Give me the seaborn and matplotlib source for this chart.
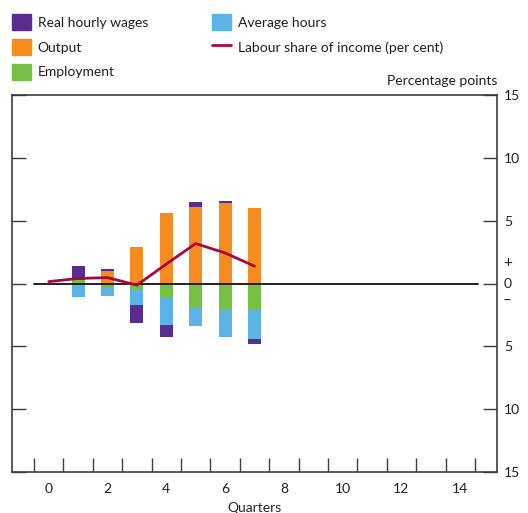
import numpy as np
import matplotlib
matplotlib.use('Agg')
import matplotlib.pyplot as plt
import seaborn as sns
import pandas as pd
from matplotlib.patches import Patch
from matplotlib.lines import Line2D

# ---------------------------------------------------------------------------
# Data
# ---------------------------------------------------------------------------
bar_quarters = [1, 2, 3, 4, 5, 6, 7]
real_wages = [1.12, 0.20, -1.40, -0.95, 0.42, 0.16, -0.40]
output = [0.0, 0.98, 2.90, 5.60, 6.05, 6.39, 6.00]
employment = [0.26, -0.30, -0.55, -1.10, -1.95, -2.00, -2.00]
avg_hours = [-1.09, -0.70, -1.20, -2.20, -1.45, -2.26, -2.43]

line_quarters = [0, 1, 2, 3, 4, 5, 6, 7]
labour_share = [0.15, 0.40, 0.47, -0.13, 1.55, 3.18, 2.43, 1.38]

y_ticks = [-15, -10, -5, 0, 5, 10, 15]
y_tick_labels = ['15', '10', '5', '0', '5', '10', '15']
x_ticks = [0, 2, 4, 6, 8, 10, 12, 14]

COLORS = {
    'Real hourly wages': '#5b2c8f',
    'Output': '#f68b1f',
    'Employment': '#76c043',
    'Average hours': '#5bb4e5',
}
LINE_COLOR = '#a6093d'
AXIS_COLOR = '#3c3c3c'

sns.set_theme(style='white')
plt.rcParams['font.family'] = ['Lato', 'DejaVu Sans']
plt.rcParams['text.color'] = '#231f20'

fig = plt.figure(figsize=(5.28, 5.13), dpi=100)
ax = fig.add_axes([12 / 528, 41 / 513, 485 / 528, 377 / 513])

# stacked bars: positives and negatives stacked separately from zero
series = {
    'Employment': employment,
    'Output': output,
    'Average hours': avg_hours,
    'Real hourly wages': real_wages,
}
pos_base = np.zeros(len(bar_quarters))
neg_base = np.zeros(len(bar_quarters))
for name, vals in series.items():
    vals = np.asarray(vals)
    bottom = np.where(vals >= 0, pos_base, neg_base)
    ax.bar(bar_quarters, vals, bottom=bottom, width=0.44,
           color=COLORS[name], linewidth=0, zorder=2)
    pos_base += np.clip(vals, 0, None)
    neg_base += np.clip(vals, None, 0)

ax.plot([-0.5, 14.6], [0, 0], color='#111111', lw=1.3, zorder=3)

line_df = pd.DataFrame({'quarter': line_quarters, 'share': labour_share})
sns.lineplot(data=line_df, x='quarter', y='share', color=LINE_COLOR,
             lw=2, ax=ax, zorder=4)

ax.set_xlim(-1.25, 15.25)
ax.set_ylim(-15, 15)

ax.set_xticks(x_ticks)
ax.set_xticks(np.arange(-0.5, 15, 1), minor=True)
ax.tick_params(axis='x', which='major', length=0, pad=8,
               labelsize=10, labelcolor='#231f20')
ax.tick_params(axis='x', which='minor', direction='in', length=10,
               width=1, color=AXIS_COLOR, bottom=True)

ax.set_yticks(y_ticks)
ax.set_yticklabels(y_tick_labels)
ax.tick_params(axis='y', direction='in', length=10, width=1,
               color=AXIS_COLOR, left=True, right=True,
               labelleft=False, labelright=True, labelsize=10,
               labelcolor='#231f20', pad=5)

for spine in ax.spines.values():
    spine.set_color(AXIS_COLOR)
    spine.set_linewidth(1.2)
    spine.set_visible(True)

ax.set_xlabel('Quarters', fontsize=10, labelpad=5)
ax.set_ylabel('')

# +/- markers on the right axis
ax.text(1.012, 1.6, '+', transform=ax.get_yaxis_transform(),
        fontsize=11, va='center', ha='left')
ax.text(1.012, -1.4, '\u2013', transform=ax.get_yaxis_transform(),
        fontsize=11, va='center', ha='left')

ax.text(1.0, 1.02, 'Percentage points', transform=ax.transAxes,
        fontsize=10, ha='right', va='bottom')

handles = [
    Patch(color=COLORS['Real hourly wages'], label='Real hourly wages'),
    Patch(color=COLORS['Output'], label='Output'),
    Patch(color=COLORS['Employment'], label='Employment'),
    Patch(color=COLORS['Average hours'], label='Average hours'),
    Line2D([0], [0], color=LINE_COLOR, lw=2,
           label='Labour share of income (per cent)'),
]
fig.legend(handles=handles, ncol=2, loc='upper left',
           bbox_to_anchor=(12 / 528, 1 - 14 / 513), frameon=False,
           fontsize=10, handlelength=1.35, handleheight=1.45,
           handletextpad=0.5, columnspacing=4.6, labelspacing=0.6,
           borderaxespad=0, borderpad=0)

fig.savefig('out.png', dpi=100)
